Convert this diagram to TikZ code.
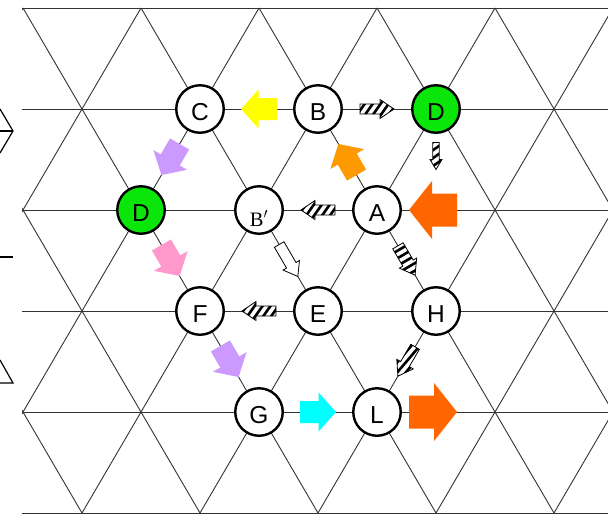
\documentclass[tikz,border=0pt]{standalone}
\usepackage{fontspec}
\setmainfont{Liberation Sans}
\newfontfamily\serifface{Liberation Serif}
\usetikzlibrary{calc}
\definecolor{siteGreen}{RGB}{10,230,10}
\definecolor{arrYellow}{RGB}{255,255,0}
\definecolor{arrOrange}{RGB}{255,153,0}
\definecolor{arrRed}{RGB}{255,102,0}
\definecolor{arrLilac}{RGB}{204,153,255}
\definecolor{arrPink}{RGB}{255,153,204}
\definecolor{arrCyan}{RGB}{0,255,255}
\tikzset{
  gridline/.style={line width=0.9pt, draw=black!80},
  edgemark/.style={line width=1.2pt, draw=black},
  site/.style={circle, draw=black, line width=2.4pt, fill=white, minimum size=47.5pt,
    inner sep=0pt, font=\fontsize{24.5pt}{26pt}\selectfont, text height=23.5pt, text depth=0pt},
  greensite/.style={site, fill=siteGreen},
  pics/blockarr/.style n args={4}{code={
    \path[pic actions] (-#1,-#4) -- (#2,-#4) -- (#2,-#3) -- (#1,0) -- (#2,#3) -- (#2,#4) -- (-#1,#4) -- cycle;}},
  pics/hatcharr/.style n args={5}{code={
    \fill[white] (-#1,-#4) -- (#2,-#4) -- (#2,-#3) -- (#1,0) -- (#2,#3) -- (#2,#4) -- (-#1,#4) -- cycle;
    \begin{scope}
      \clip (-#1,-#4) -- (#2,-#4) -- (#2,-#3) -- (#1,0) -- (#2,#3) -- (#2,#4) -- (-#1,#4) -- cycle;
      \foreach \s in {-39,-32.5,...,39} \draw[line width=2.6pt, rotate=#5] (\s,-45) -- (\s,45);
    \end{scope}
    \draw[line width=0.8pt, black, line join=miter] (-#1,-#4) -- (#2,-#4) -- (#2,-#3) -- (#1,0) -- (#2,#3) -- (#2,#4) -- (-#1,#4) -- cycle;}},
}
\begin{document}
\begin{tikzpicture}[x=1pt,y=-1pt]
\useasboundingbox (0,0) rectangle (608,515);
% lattice
\begin{scope}
  \clip (22,6) rectangle (612,515);
  \foreach \r in {0,...,5} \draw[gridline] (22,{8+101*\r}) -- (612,{8+101*\r});
  \foreach \k in {-3,...,8} {
    \draw[gridline] ({23+118*(\k)},8) -- ({23+118*(\k)+295},513);
    \draw[gridline] ({23+118*(\k)},8) -- ({23+118*(\k)-295},513);
  }
\end{scope}
% clipped pieces at the left border
\draw[edgemark] (0,109) -- (13,131) -- (0,153);
\draw[edgemark] (0,131) -- (13,131);
\draw[edgemark] (0,257) -- (13,257);
\draw[edgemark] (0,360) -- (13,383) -- (0,383);
% sites
\node[site] (C) at (200,109) {C};
\node[site] (B) at (318,109) {B};
\node[greensite] (D1) at (436,109) {D};
\node[greensite] (D2) at (141,210) {D};
\node[site, font=\serifface\fontsize{20.5pt}{22pt}\selectfont, text height=32pt] (Bp) at (259,210) {B$'$};
\node[site] (A) at (377,210) {A};
\node[site] (F) at (200,311) {F};
\node[site] (E) at (318,311) {E};
\node[site] (H) at (436,311) {H};
\node[site] (G) at (259,412) {G};
\node[site] (L) at (377,412) {L};
\coordinate (Dbelow) at ($(D1)+(0,47)$);
\coordinate (Aright) at ($(A)+(56,0)$);
\coordinate (Lright) at ($(L)+(56,0)$);
% coloured block arrows
\pic[fill=arrYellow, rotate=180] at ($(C)!0.5!(B)$) {blockarr={18}{0.5}{19.5}{11}};
\pic[fill=arrOrange, rotate=120.3] at ($(A)!0.5!(B)$) {blockarr={18}{0.5}{19.5}{11}};
\pic[fill=arrLilac, rotate=-120.3] at ($(C)!0.5!(D2)$) {blockarr={18}{0.5}{19.5}{11}};
\pic[fill=arrPink, rotate=-59.7] at ($(D2)!0.5!(F)$) {blockarr={18}{0.5}{19.5}{11}};
\pic[fill=arrLilac, rotate=-59.7] at ($(F)!0.5!(G)$) {blockarr={18}{0.5}{19.5}{11}};
\pic[fill=arrCyan, rotate=0] at ($(G)!0.5!(L)$) {blockarr={18}{0.5}{19.5}{11}};
\pic[fill=arrRed, rotate=180] at (Aright) {blockarr={24}{1}{29}{16.5}};
\pic[fill=arrRed, rotate=0] at (Lright) {blockarr={24}{1}{29}{16.5}};
% outlined / hatched arrows
\pic[fill=white, draw=black, line width=0.8pt, rotate=-59.7] at ($(Bp)!0.5!(E)$) {blockarr={18.5}{5.5}{9.5}{5.5}};
\pic[rotate=0] at ($(B)!0.5!(D1)$) {hatcharr={17}{3}{9.5}{5}{-35}};
\pic[rotate=180] at ($(A)!0.5!(Bp)$) {hatcharr={17}{3}{9.5}{5}{-35}};
\pic[rotate=180] at ($(E)!0.5!(F)$) {hatcharr={17}{3}{9.5}{5}{-35}};
\pic[rotate=-59.7] at ($(A)!0.5!(H)$) {hatcharr={17}{3}{10}{6}{0}};
\pic[rotate=-120.3] at ($(H)!0.5!(L)$) {hatcharr={17}{3}{9.5}{5}{80}};
\pic[rotate=-90] at (Dbelow) {hatcharr={13.5}{3.5}{6}{3.2}{35}};
\end{tikzpicture}
\end{document}
